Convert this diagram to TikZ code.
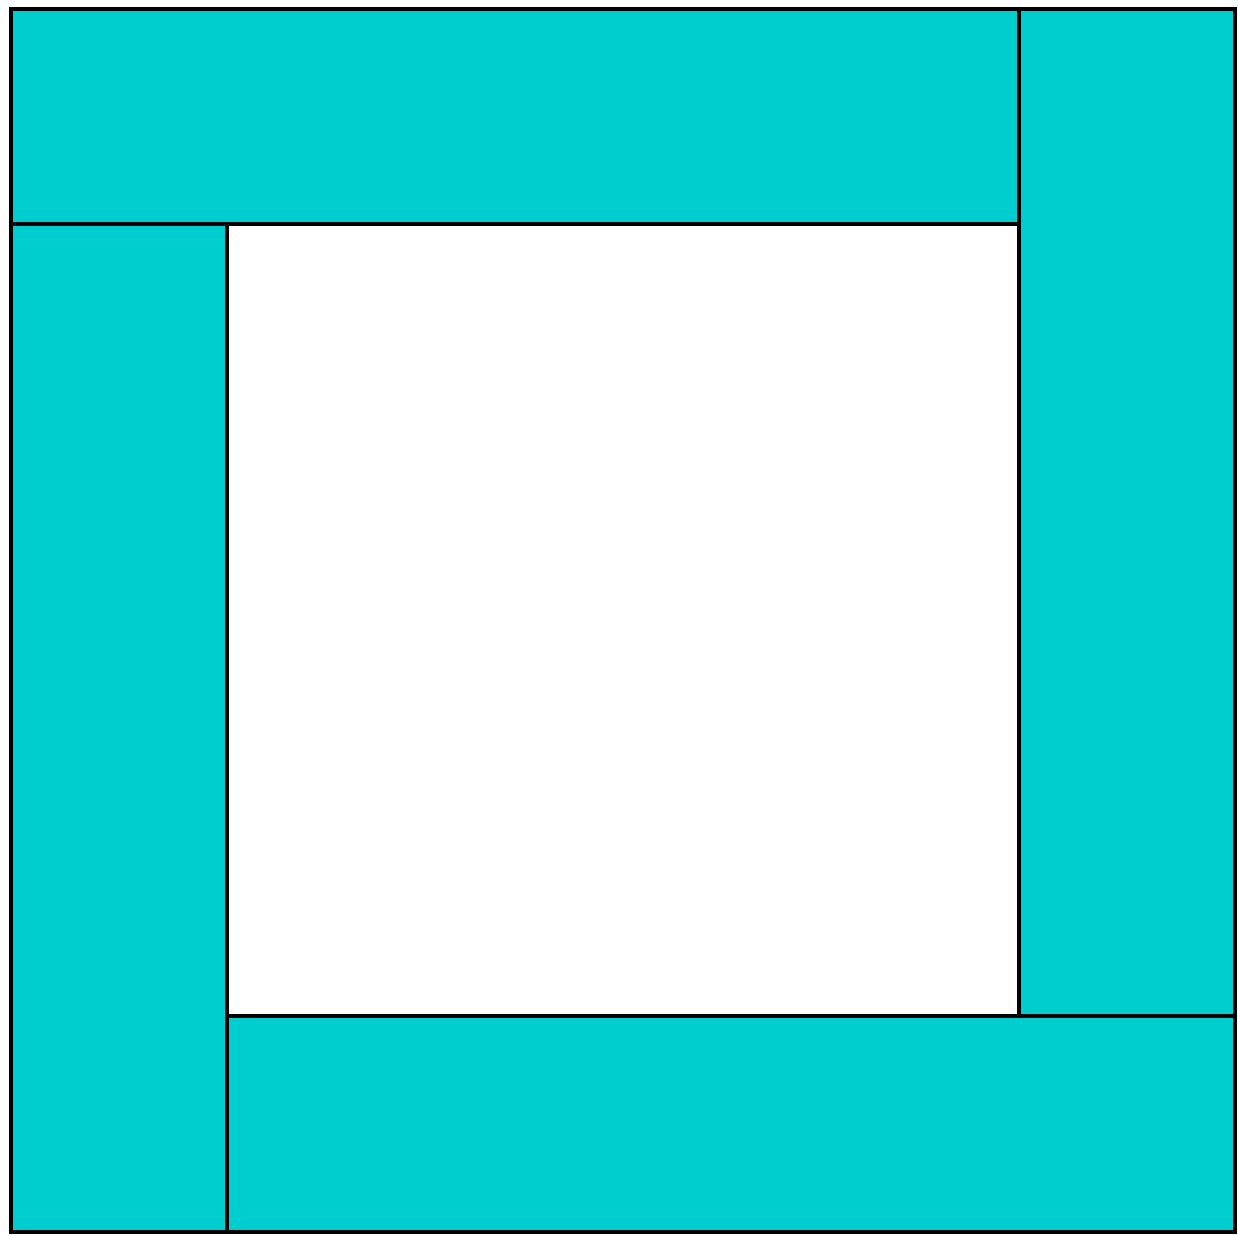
\documentclass[tikz,border=0pt]{standalone}
\usepackage{tikz}
\usetikzlibrary{calc}
\definecolor{FrameCyan}{RGB}{0,206,206}
\tikzset{
  plank/.style={draw=black,fill=FrameCyan,line width=0.9pt,line join=miter},
  hole/.style={draw=black,fill=white,line width=0.9pt}
}
\begin{document}
\begin{tikzpicture}[x=0.01cm,y=0.01cm]
\useasboundingbox (0,0) rectangle (1238,1236);

% Four planks around the centre square.
\draw[plank] (11,1227) rectangle (1019,1012);
\draw[plank] (1019,1227) rectangle (1235,220);
\draw[plank] (227,220) rectangle (1235,4);
\draw[plank] (11,1012) rectangle (227,4);

% Open centre.
\draw[hole] (227,1012) rectangle (1019,220);
\end{tikzpicture}
\end{document}
